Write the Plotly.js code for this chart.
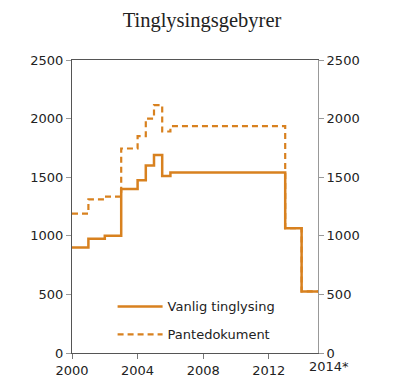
<!DOCTYPE html>
<html>
<head>
<meta charset="utf-8">
<script src="https://cdn.plot.ly/plotly-3.0.1.min.js"></script>
<style>html,body{margin:0;padding:0;background:#fff}#chart{width:400px;height:390px}</style>
</head>
<body>
<div id="chart"></div>
<script>
const years = [2000, 2001, 2002, 2003, 2004, 2004.5, 2005, 2005.5, 2006, 2013, 2014, 2015];
const vanligTinglysing = [900, 975, 1000, 1400, 1475, 1600, 1690, 1510, 1540, 1065, 525, 525];
const pantedokument = [1190, 1310, 1335, 1745, 1850, 2000, 2115, 1890, 1935, 1065, 525, 525];
const xTickVals = [2000, 2004, 2008, 2012];
const xTickText = ['2000', '2004', '2008', '2012'];
const lastLabel = '2014*';
const seriesNames = ['Vanlig tinglysing', 'Pantedokument'];

const orange = '#d8811f';
const tickFont = {family: 'DejaVu Sans, Verdana, sans-serif', size: 13, color: '#222'};

const traces = [
  {x: years, y: pantedokument, name: seriesNames[1], mode: 'lines', line: {shape: 'hv', color: orange, width: 2.2, dash: '6px,4px'}, legendgroup: 'b', legendrank: 2},
  {x: years, y: vanligTinglysing, name: seriesNames[0], mode: 'lines', line: {shape: 'hv', color: orange, width: 2.5}, legendgroup: 'a', legendrank: 1},
  {x: years, y: vanligTinglysing, yaxis: 'y2', mode: 'lines', line: {width: 0}, showlegend: false, hoverinfo: 'skip', opacity: 0}
];

const layout = {
  width: 400, height: 390,
  margin: {l: 72, r: 82, t: 60, b: 37},
  paper_bgcolor: '#fff', plot_bgcolor: '#fff',
  title: {text: 'Tinglysingsgebyrer', font: {family: 'Liberation Serif, Times New Roman, serif', size: 20.5, color: '#222'}, x: 0.505, xanchor: 'center', y: 0.949, yanchor: 'middle', yref: 'container'},
  showlegend: true,
  legend: {x: 0.165, xanchor: 'left', y: 0.21, yanchor: 'top', font: tickFont, bgcolor: 'rgba(0,0,0,0)', tracegroupgap: 8, traceorder: 'grouped', itemwidth: 45},
  xaxis: {range: [2000, 2015], tickvals: xTickVals, ticktext: xTickText, showgrid: false, zeroline: false, showline: true, linecolor: '#555', linewidth: 1, mirror: true, ticks: 'outside', ticklen: 5, tickcolor: '#777', tickfont: tickFont},
  yaxis: {range: [0, 2500], dtick: 500, showgrid: false, zeroline: false, showline: true, linecolor: '#555', linewidth: 1, ticks: 'outside', ticklen: 5, tickcolor: '#999', tickfont: tickFont},
  yaxis2: {range: [0, 2500], dtick: 500, overlaying: 'y', side: 'right', showgrid: false, zeroline: false, showline: true, linecolor: '#999', linewidth: 1, ticks: 'outside', ticklen: 5, tickcolor: '#999', tickfont: tickFont},
  annotations: [{x: 2015, xref: 'x', y: 0, yref: 'paper', yanchor: 'top', xanchor: 'center', xshift: 11, yshift: -4, text: lastLabel, showarrow: false, font: tickFont}]
};

Plotly.newPlot('chart', traces, layout, {displayModeBar: false, staticPlot: true});
</script>
</body>
</html>
